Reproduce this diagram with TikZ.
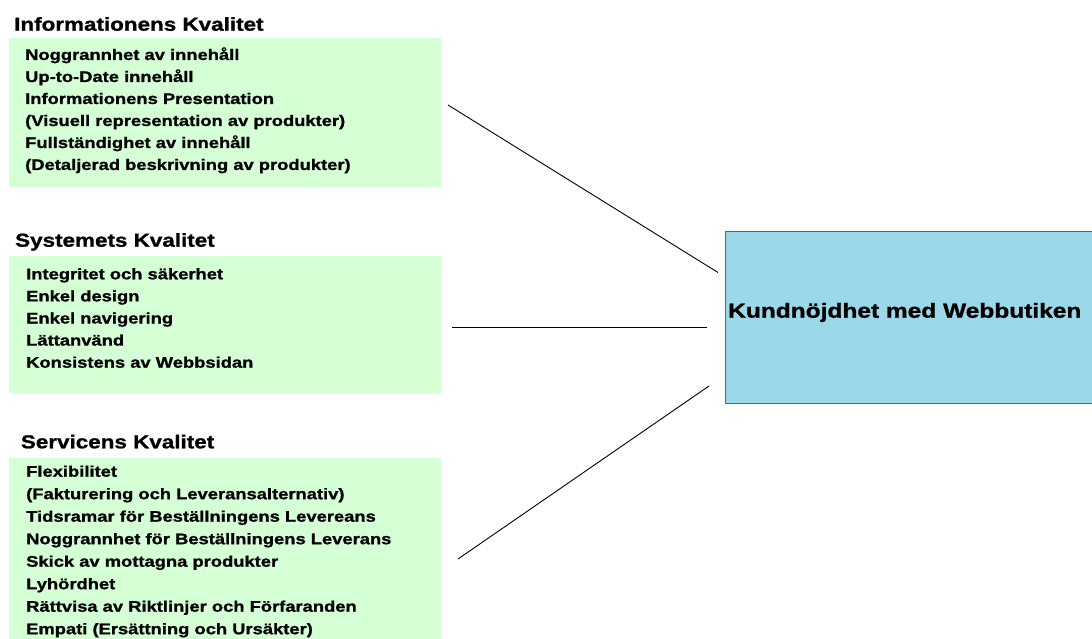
\documentclass[tikz,border=0pt]{standalone}
\usepackage{fontspec}
\setmainfont{Liberation Sans}[FakeStretch=1.2, BoldFeatures={FakeBold=1.2}]
\definecolor{gfill}{RGB}{213,255,213}
\definecolor{bfill}{RGB}{155,217,234}
\definecolor{bdraw}{RGB}{70,90,230}
\begin{document}
\begin{tikzpicture}[x=1pt,y=1pt,
  gbox/.style={fill=gfill, draw=none, anchor=north west, inner sep=0},
  ttl/.style={anchor=base west, inner sep=0, font=\fontsize{18.7}{20}\selectfont\bfseries},
  item/.style={anchor=base west, inner sep=0, font=\fontsize{15.3}{18}\selectfont\bfseries},
  conn/.style={draw=black, line width=0.9pt}]
\useasboundingbox (0,0) rectangle (1092,-639);
\clip (0,0) rectangle (1092,-639);
\fill[white] (0,0) rectangle (1092,-639);
% green boxes
\node[gbox, minimum width=432.4, minimum height=149] (info) at (8.3,-37.7) {};
\node[gbox, minimum width=432.4, minimum height=137] (sys) at (8.3,-255.7) {};
\node[gbox, minimum width=432.4, minimum height=182] (serv) at (8.3,-457.3) {};
% titles
\node[ttl] (t1) at (14,-30.7) {Informationens Kvalitet};
\node[ttl] (t2) at (15,-246.7) {Systemets Kvalitet};
\node[ttl] (t3) at (20.7,-448.3) {Servicens Kvalitet};
% items
\foreach \t [count=\i] in {Noggrannhet av innehåll, Up-to-Date innehåll, Informationens Presentation, (Visuell representation av produkter), Fullständighet av innehåll, (Detaljerad beskrivning av produkter)}
  \node[item] (a\i) at (25,{-60-22*(\i-1)}) {\t};
\foreach \t [count=\i] in {Integritet och säkerhet, Enkel design, Enkel navigering, Lättanvänd, Konsistens av Webbsidan}
  \node[item] (b\i) at (26,{-279.3-22.1*(\i-1)}) {\t};
\foreach \t [count=\i] in {Flexibilitet, (Fakturering och Leveransalternativ), Tidsramar för Beställningens Levereans, Noggrannhet för Beställningens Leverans, Skick av mottagna produkter, Lyhördhet, Rättvisa av Riktlinjer och Förfaranden, Empati (Ersättning och Ursäkter)}
  \node[item] (c\i) at (26,{-476.7-22.5*(\i-1)}) {\t};
% target box
\node[fill=bfill, draw=bdraw, line width=1pt, anchor=north west, inner sep=0,
      minimum width=420, minimum height=171.5] (kund) at (725,-231) {};
\node[anchor=base west, inner sep=0, font=\fontsize{20.4}{24}\selectfont\bfseries] (kt) at (728,-317.7) {Kundnöjdhet med Webbutiken};
% connector ends
\coordinate (s1) at (448,-105);
\coordinate (e1) at (718,-272.5);
\coordinate (s2) at (452,-327.3);
\coordinate (e2) at (707,-327.3);
\coordinate (s3) at (458,-559);
\coordinate (e3) at (709,-386);
\draw[conn] (s1) -- (e1);
\draw[conn, line width=1.5pt] (s2) -- (e2);
\draw[conn] (s3) -- (e3);
\end{tikzpicture}
\end{document}
